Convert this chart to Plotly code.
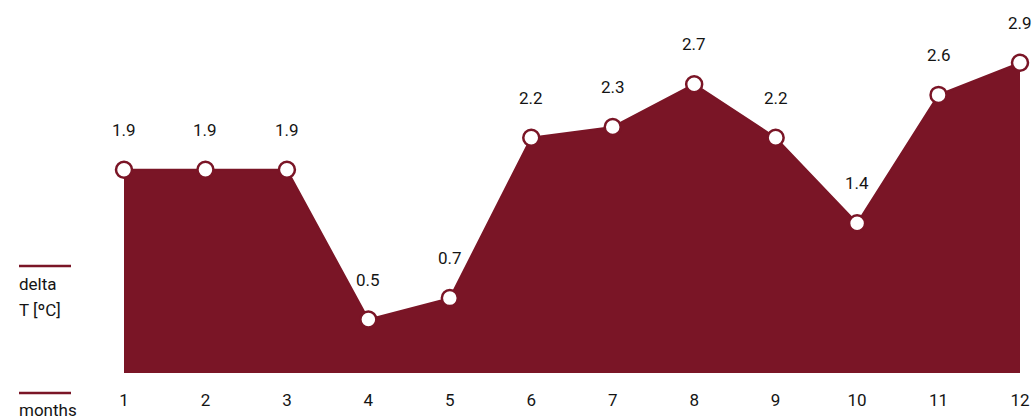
import plotly.graph_objects as go

# Monthly temperature deviation
months = [1, 2, 3, 4, 5, 6, 7, 8, 9, 10, 11, 12]
delta_t = [1.9, 1.9, 1.9, 0.5, 0.7, 2.2, 2.3, 2.7, 2.2, 1.4, 2.6, 2.9]
tick_labels = [str(m) for m in months]

RED = "#7a1526"
FONT = "Roboto"
TEXT = "#141414"

fig = go.Figure()

fig.add_trace(go.Scatter(
    x=months,
    y=delta_t,
    mode="lines+markers",
    fill="tozeroy",
    fillcolor=RED,
    line=dict(color=RED, width=2),
    marker=dict(size=16, color="white", line=dict(color=RED, width=2.5)),
    cliponaxis=False,
    hoverinfo="skip",
))

# value labels above each point
for m, v in zip(months, delta_t):
    fig.add_annotation(
        x=m, y=v, text=f"{v:.1f}", showarrow=False,
        yshift=40, yanchor="middle", xanchor="center",
        font=dict(family=FONT, size=17, color=TEXT),
    )

# axis captions on the left with short accent rules (offsets in pixels from the plot's bottom-left)
for y_px in (107, -20):
    fig.add_shape(type="line", xref="paper", yref="paper",
                  xsizemode="pixel", ysizemode="pixel", xanchor=0, yanchor=0,
                  x0=-105, x1=-53, y0=y_px, y1=y_px,
                  line=dict(color=RED, width=2.5))

for text, y_px in [("delta", 89), ("T [ºC]", 63), ("months", -37)]:
    fig.add_annotation(
        xref="paper", yref="paper", x=0, y=0,
        xshift=-107, yshift=y_px,
        text=text, showarrow=False, xanchor="left", yanchor="middle",
        font=dict(family=FONT, size=17, color=TEXT),
    )

fig.update_layout(
    width=1032, height=420,
    margin=dict(l=124, r=12, t=20, b=47),
    paper_bgcolor="white",
    plot_bgcolor="white",
    showlegend=False,
    font=dict(family=FONT, size=17, color=TEXT),
)
fig.update_xaxes(
    range=[1, 12],
    automargin=False,
    tickvals=months, ticktext=tick_labels,
    showgrid=False, zeroline=False, showline=False,
    ticks="outside", ticklen=12, tickcolor="rgba(0,0,0,0)",
    tickfont=dict(family=FONT, size=17, color=TEXT),
)
fig.update_yaxes(
    range=[0, 3.3],
    automargin=False,
    visible=False, showgrid=False, zeroline=False,
)

fig.write_html("out.html")
